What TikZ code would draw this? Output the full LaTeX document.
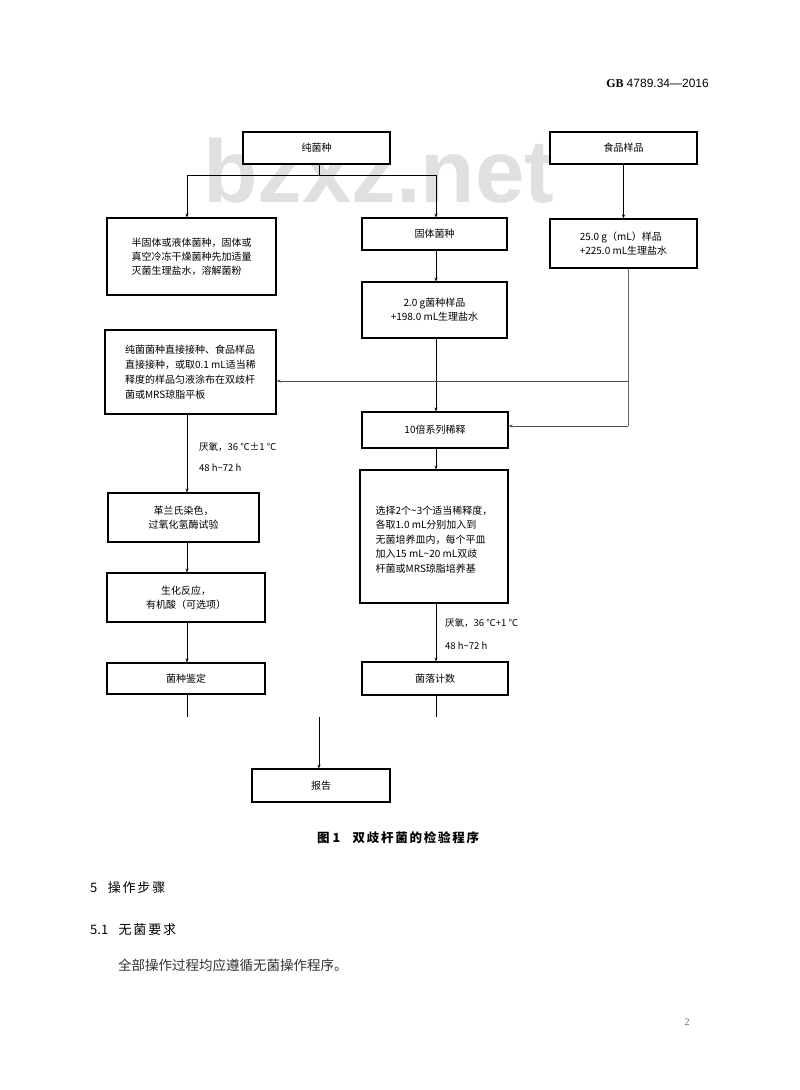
\documentclass[tikz,border=0pt]{standalone}
\usepackage{fontspec}
\setmainfont{Liberation Serif}
\newfontfamily\cjk{Noto Sans CJK SC}
\newfontfamily\cjksp[LetterSpace=14]{Noto Sans CJK SC}
\newfontfamily\wmfont{Liberation Sans}
\usetikzlibrary{arrows.meta}
\tikzset{
  box/.style={draw, fill=white, line width=1.1pt, inner sep=0pt, font=\cjk\fontsize{10}{14}\selectfont},
  ln/.style={line width=0.6pt},
  arr/.style={line width=0.6pt, -{Stealth[length=4pt,width=3pt]}},
  lbl/.style={inner sep=0pt, anchor=west, font=\cjk\fontsize{9.5}{12}\selectfont},
}
\begin{document}
\begin{tikzpicture}[x=1pt,y=-1pt]
\useasboundingbox (0,0) rectangle (800,1090);
\fill[white] (0,0) rectangle (800,1090);
% watermark
\node[anchor=base west, inner sep=0pt, text=black!12, font=\wmfont\bfseries\fontsize{89}{89}\selectfont] (wm) at (203,202) {bzxz.net};
% header
\node[anchor=base east, inner sep=0pt, font=\fontsize{12}{14}\selectfont] (hdr) at (709,87) {{\bfseries GB}\ {\wmfont 4789.34—2016}};
% connectors under the boxes
\coordinate (ps) at (319,175);
\coordinate (hl) at (187,175);
\coordinate (hr) at (436,175);
% boxes
\node[box, minimum width=147pt, minimum height=32pt] (pure) at (316.5,148) {纯菌种};
\node[box, minimum width=147pt, minimum height=32pt] (food) at (623.5,148) {食品样品};
\node[box, minimum width=169pt, minimum height=77pt, align=left] (semi) at (191.5,256.5) {半固体或液体菌种，固体或\\真空冷冻干燥菌种先加适量\\灭菌生理盐水，溶解菌粉};
\node[box, minimum width=145pt, minimum height=32pt] (solid) at (434.5,234) {固体菌种};
\node[box, minimum width=147pt, minimum height=49pt, align=left] (s25) at (623.5,243.5) {25.0 g（mL）样品\\+225.0 mL生理盐水};
\node[box, minimum width=145pt, minimum height=56pt, align=center] (s2) at (434.5,310) {2.0 g菌种样品\\+198.0 mL生理盐水};
\node[box, minimum width=171pt, minimum height=84pt, align=left, font=\cjk\fontsize{10}{15}\selectfont] (inoc) at (190.5,372) {纯菌菌种直接接种、食品样品\\直接接种，或取0.1 mL适当稀\\释度的样品匀液涂布在双歧杆\\菌或MRS琼脂平板};
\node[box, minimum width=146pt, minimum height=36pt] (dil) at (435,430) {10倍系列稀释};
\node[box, minimum width=151pt, minimum height=49pt, align=center] (gram) at (183.5,517.5) {革兰氏染色，\\过氧化氢酶试验};
\node[box, minimum width=148pt, minimum height=133pt, align=left, font=\cjk\fontsize{10}{14.5}\selectfont] (choose) at (434,536.5) {\\选择2个\string~3个适当稀释度，\\各取1.0 mL分别加入到\\无菌培养皿内，每个平皿\\加入15 mL\string~20 mL双歧\\杆菌或MRS琼脂培养基};
\node[box, minimum width=158pt, minimum height=49pt, align=center] (bio) at (186,597.5) {生化反应，\\有机酸（可选项）};
\node[box, minimum width=158pt, minimum height=31pt] (ident) at (186,678.5) {菌种鉴定};
\node[box, minimum width=146pt, minimum height=33pt] (count) at (435,678.5) {菌落计数};
\node[box, minimum width=138pt, minimum height=33pt] (report) at (321,785.5) {报告};
% connectors
\draw[ln] (pure.south -| ps) -- (ps);
\draw[ln] (hl) -- (hr);
\draw[arr] (hl) -- (semi.north -| hl);
\draw[arr] (hr) -- (solid.north -| hr);
\draw[arr] (food.south) -- (s25.north);
\draw[arr] (solid.south -| hr) -- (s2.north -| hr);
\draw[arr] (s2.south -| hr) -- (dil.north -| hr);
\coordinate (ra) at (628,381);
\coordinate (rb) at (628,426);
\draw[ln, draw=black!60] (s25.south -| ra) -- (rb);
\draw[arr, draw=black!70] (ra) -- (inoc.east |- ra);
\draw[arr, draw=black!70] (rb) -- (dil.east |- rb);
\draw[arr] (inoc.south -| hl) -- (gram.north -| hl);
\draw[arr] (gram.south -| hl) -- (bio.north -| hl);
\draw[arr] (bio.south -| hl) -- (ident.north -| hl);
\draw[arr] (dil.south -| hr) -- (choose.north -| hr);
\draw[arr] (choose.south -| hr) -- (count.north -| hr);
\coordinate (e1) at (187,717);
\coordinate (e2) at (436,717);
\coordinate (e3) at (319,717);
\draw[ln] (ident.south -| e1) -- (e1);
\draw[ln] (count.south -| e2) -- (e2);
\draw[arr] (e3) -- (report.north -| e3);
% labels
\node[lbl] (l1) at (199,447) {厌氧，36 ℃±1 ℃};
\node[lbl] (l2) at (199,468) {48 h\string~72 h};
\node[lbl] (l3) at (445,623) {厌氧，36 ℃+1 ℃};
\node[lbl] (l4) at (445,646) {48 h\string~72 h};
% caption and text
\node[anchor=west, inner sep=0pt, font=\cjk\fontsize{12.5}{14}\selectfont\bfseries] (cap) at (317,838) {图 1\hspace{1em}{\cjksp 双歧杆菌的检验程序}};
\node[anchor=west, inner sep=0pt, font=\cjk\fontsize{13}{15}\selectfont] (s5) at (90,888) {5\hspace{0.8em}{\cjksp 操作步骤}};
\node[anchor=west, inner sep=0pt, font=\cjk\fontsize{13}{15}\selectfont] (s51) at (90,930) {5.1\hspace{0.8em}{\cjksp 无菌要求}};
\node[anchor=west, inner sep=0pt, font=\cjk\fontsize{13.5}{15}\selectfont, text=black!80] (body) at (118,965) {全部操作过程均应遵循无菌操作程序。};
\node[inner sep=0pt, font=\fontsize{10}{12}\selectfont, text=black!60] (pg) at (687,1022) {2};
\end{tikzpicture}
\end{document}
